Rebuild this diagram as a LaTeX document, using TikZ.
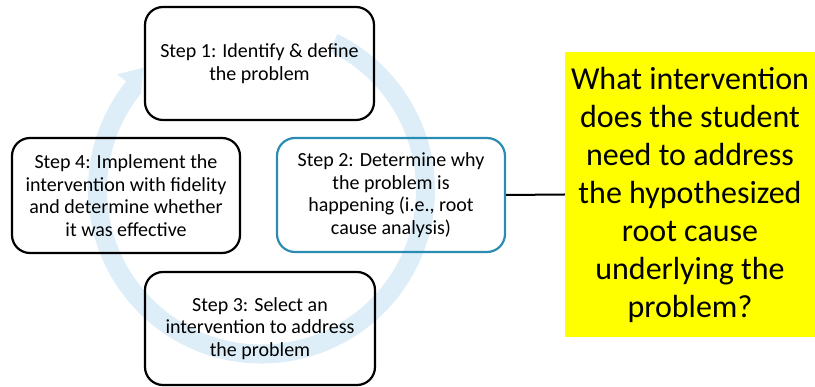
\documentclass[tikz,border=0pt]{standalone}
\usepackage{fontspec}
\setmainfont{Carlito}
\definecolor{cyclefill}{HTML}{DDEEF8}
\definecolor{stepblue}{HTML}{2B8CB3}
\definecolor{noteyellow}{HTML}{FFFF00}
\begin{document}
\begin{tikzpicture}[x=1pt,y=-1pt,
  stepbox/.style={draw=black, line width=2.2pt, rounded corners=18pt, align=center,
    inner sep=0pt, font=\fontsize{20}{22.5}\selectfont},
  notebox/.style={fill=noteyellow, align=center, inner sep=0pt,
    font=\fontsize{32}{38}\selectfont},
  link/.style={draw=black, line width=2pt}]
\useasboundingbox (0,0) rectangle (815,387);

% circular arrow behind the steps (clockwise, head at upper left)
\fill[cyclefill]
  ([shift={(261.5,190)}]-64:173.5)
  arc[start angle=-64, end angle=218.7, radius=173.5]
  -- ([shift={(261.5,190)}]218.7:185)
  -- ([shift={(261.5,190)}]226:170)
  -- ([shift={(261.5,190)}]218.7:154.5)
  arc[start angle=218.7, end angle=-64, radius=154.5]
  -- cycle;

% the four steps
\node[stepbox, minimum width=229, minimum height=113] (s1) at (259.5,63.5)
  {Step 1: Identify \& define\\the problem};
\node[stepbox, draw=stepblue, minimum width=228, minimum height=114] (s2) at (391,195)
  {Step 2: Determine why\\the problem is\\happening (i.e., root\\cause analysis)};
\node[stepbox, minimum width=230, minimum height=113] (s3) at (260,328.5)
  {Step 3: Select an\\intervention to address\\the problem};
\node[stepbox, minimum width=228, minimum height=115] (s4) at (126,195.5)
  {Step 4: Implement the\\intervention with fidelity\\and determine whether\\it was effective};

% guiding question
\node[notebox, minimum width=250, minimum height=285] (q) at (690,194.5)
  {What intervention\\does the student\\need to address\\the hypothesized\\root cause\\underlying the\\problem?};

\draw[link] (s2.east) -- (q.west);
\end{tikzpicture}
\end{document}
